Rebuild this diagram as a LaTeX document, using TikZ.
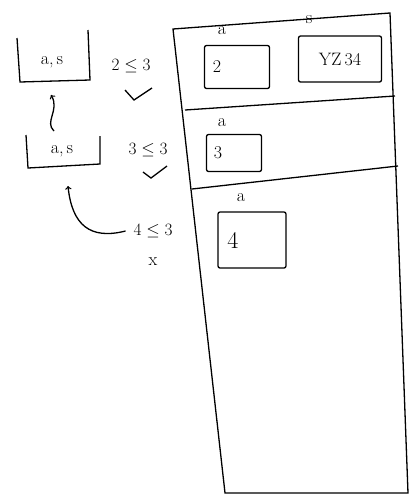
\documentclass[tikz,border=0pt]{standalone}
\usetikzlibrary{positioning}
\begin{document}
\begin{tikzpicture}[x=1pt,y=-1pt,line width=1.3pt,
  var/.style={draw,rounded corners=2pt,inner sep=0pt},
  txt/.style={font=\fontsize{18}{18}\selectfont}]
  \useasboundingbox (0,0) rectangle (411,499);
  % the stack with its three frames
  \draw (173,29) -- (390,13) -- (408,493) -- (225,493) -- cycle;
  \draw (185,110) -- (395,96);
  \draw (192,189) -- (398,166);
  % frame 1
  \node[var,minimum width=65pt,minimum height=43pt] (a1) at (237,67) {};
  \node[txt,anchor=west] (v1) at ([xshift=5pt]a1.west) {2};
  \node[txt] (la1) at (222,31) {a};
  \node[var,minimum width=83pt,minimum height=46pt] (s1) at (340,59) {};
  \node[txt] (vs1) at (s1) {YZ\,34};
  \node[txt] (ls1) at (309,20) {s};
  % frame 2
  \node[var,minimum width=55pt,minimum height=37pt] (a2) at (234,153) {};
  \node[txt,anchor=west] (v2) at ([xshift=4pt]a2.west) {3};
  \node[txt] (la2) at (222,123) {a};
  % frame 3
  \node[var,minimum width=68pt,minimum height=56pt] (a3) at (252,240) {};
  \node[font=\fontsize{24}{24}\selectfont,anchor=west] (v3) at ([xshift=6pt]a3.west) {4};
  \node[txt] (la3) at (241,198) {a};
  % loop tests on the left
  \node[txt] (t1) at (52,62) {a,\,s};
  \draw (17,38) -- (20,82) -- (90,80) -- (88,30);
  \node[txt] (t2) at (62,151) {a,\,s};
  \draw (26,135) -- (28,168) -- (100,164) -- (100,136);
  \coordinate (b1) at (51,95);
  \coordinate (b2) at (54,131);
  \coordinate (b3) at (68,186);
  \node[txt] (c1) at (131,66) {$2\leq3$};
  \node[txt] (c2) at (148,150) {$3\leq3$};
  \node[txt] (c3) at (153,231) {$4\leq3$};
  \node[txt] (c4) at (153,262) {x};
  \draw (125,90) -- (134,100) -- (152,88);
  \draw (143,172) -- (151,178) -- (167,166);
  \draw[->] (b2) .. controls (44,122) and (60,110) .. (b1);
  \draw[->] ([xshift=-4pt]c3.west) .. controls (90,240) and (72,225) .. (b3);
\end{tikzpicture}
\end{document}
